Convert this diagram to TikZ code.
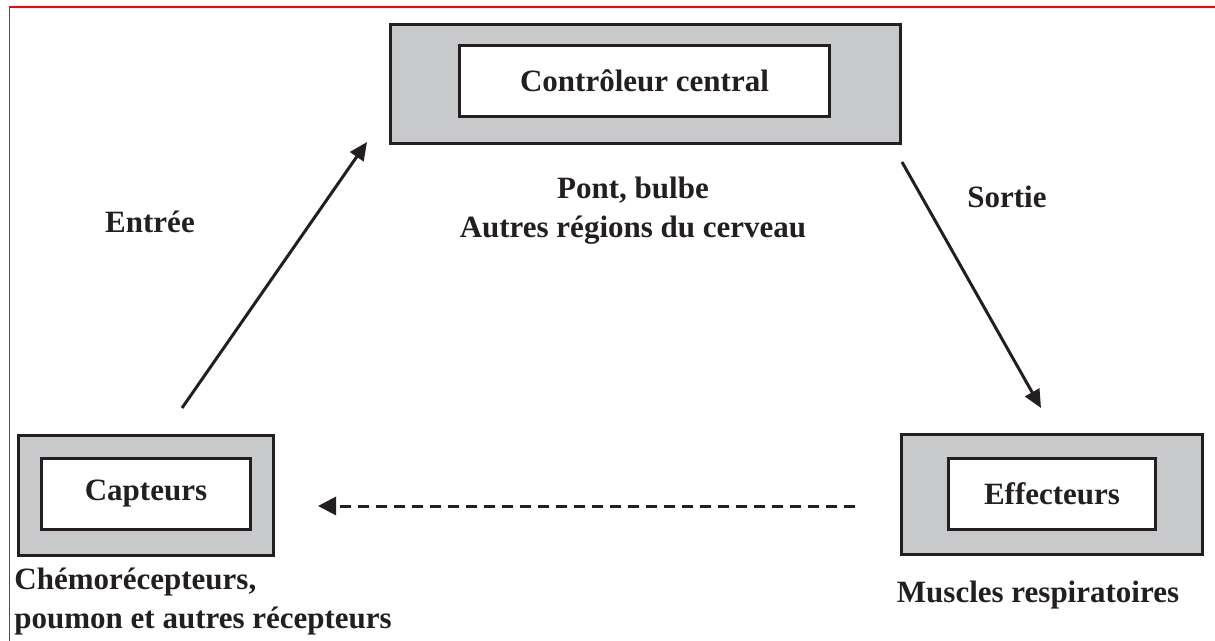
\documentclass[tikz,border=0pt]{standalone}
\usepackage{fontspec}
\setmainfont{Liberation Serif}
\usetikzlibrary{arrows.meta}
\definecolor{boxgray}{RGB}{200,201,203}
\definecolor{ink}{RGB}{35,31,32}
\newcommand\diaglbl{\fontsize{15.5}{19.5}\selectfont\bfseries}
\begin{document}
\begin{tikzpicture}[x=0.5pt,y=-0.5pt,
  outerbox/.style={draw=ink,fill=boxgray,line width=1.5pt,inner sep=0pt,outer sep=0pt},
  innerbox/.style={draw=ink,fill=white,line width=1.5pt,inner sep=0pt,outer sep=0pt,font=\diaglbl,text=ink},
  lbl/.style={font=\diaglbl,text=ink,inner sep=0pt},
  arr/.style={draw=ink,line width=1.5pt,-{Triangle[length=9pt,width=8pt]}},
  dasharr/.style={draw=ink,line width=1.5pt,dash pattern=on 5.5pt off 3.5pt,-{Triangle[length=9pt,width=9pt]}},
]
\useasboundingbox (0,0) rectangle (1215,641);
\draw[red,line width=0.6pt] (9.5,641) -- (9.5,7) -- (1215,7);

% boxes
\node[outerbox,minimum width=255pt,minimum height=59.5pt] (ctrlo) at (645.5,84) {};
\node[innerbox,minimum width=185pt,minimum height=35.5pt] (ctrl) at (644.5,81) {Contrôleur central};
\node[outerbox,minimum width=127.5pt,minimum height=60pt] (capo) at (146,495.5) {};
\node[innerbox,minimum width=104.5pt,minimum height=35.5pt] (cap) at (146,494) {Capteurs};
\node[outerbox,minimum width=150.5pt,minimum height=60pt] (effo) at (1052,494.5) {};
\node[innerbox,minimum width=103.5pt,minimum height=35.5pt] (eff) at (1052,494) {Effecteurs};

% labels
\node[lbl,align=center] (pont) at (633,211) {Pont, bulbe\\Autres régions du cerveau};
\node[lbl] (entree) at (150,222) {Entrée};
\node[lbl] (sortie) at (1007,197) {Sortie};
\node[lbl,align=left,anchor=west] (chemo) at (14,602) {Chémorécepteurs,\\poumon et autres récepteurs};
\node[lbl] (muscles) at (1038,595) {Muscles respiratoires};

% connectors
\coordinate (inA) at (182,408);
\coordinate (inB) at (367,142);
\coordinate (outA) at (902,162);
\coordinate (outB) at (1041,408);
\coordinate (fbA) at (855,506);
\coordinate (fbB) at (318,506);
\draw[arr] (inA) -- (inB);
\draw[arr] (outA) -- (outB);
\draw[dasharr] (fbA) -- (fbB);
\end{tikzpicture}
\end{document}
